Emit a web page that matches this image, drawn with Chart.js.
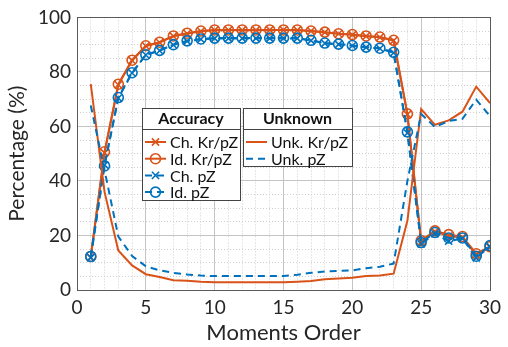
<!DOCTYPE html>
<html>
<head>
<meta charset="utf-8">
<script src="https://cdn.jsdelivr.net/npm/chart.js@4.4.1/dist/chart.umd.min.js"></script>
<style>
  html, body { margin: 0; padding: 0; background: #fff; }
  #wrap { width: 508px; height: 347px; position: relative; }
</style>
</head>
<body>
<div id="wrap"><canvas id="canvas"></canvas></div>
<script>
// moments order on the x axis
const moments = [1, 2, 3, 4, 5, 6, 7, 8, 9, 10, 11, 12, 13, 14, 15,
                 16, 17, 18, 19, 20, 21, 22, 23, 24, 25, 26, 27, 28, 29, 30];

// accuracy (%) - Kr/pZ descriptors
const chKrPz = [12.0, 50.3, 75.3, 84.2, 89.5, 90.8, 93.1, 94.1, 94.9, 95.3, 95.3, 95.3, 95.3, 95.4, 95.4,
                95.3, 95.0, 94.5, 94.0, 93.6, 93.1, 92.7, 91.5, 64.4, 17.6, 21.4, 19.8, 19.3, 12.9, 15.6];
const idKrPz = [12.3, 50.7, 75.5, 84.3, 89.6, 90.9, 93.2, 94.2, 95.0, 95.4, 95.4, 95.4, 95.4, 95.4, 95.4,
                95.4, 95.0, 94.6, 94.0, 93.7, 93.2, 92.8, 91.6, 64.6, 18.1, 21.7, 20.3, 19.6, 13.3, 15.9];

// accuracy (%) - pZ descriptors
const chPz = [11.8, 45.9, 70.4, 79.6, 86.2, 87.8, 89.9, 91.3, 92.0, 92.3, 92.3, 92.3, 92.3, 92.3, 92.3,
              92.3, 91.5, 90.5, 90.1, 89.6, 89.0, 88.6, 87.0, 57.6, 16.9, 20.6, 17.9, 18.9, 11.8, 16.0];
const idPz = [12.3, 45.5, 70.6, 79.7, 86.3, 87.9, 90.0, 91.4, 92.1, 92.4, 92.4, 92.4, 92.4, 92.4, 92.4,
              92.4, 91.6, 90.6, 90.2, 89.7, 89.1, 88.7, 87.2, 58.0, 17.4, 21.1, 19.1, 19.1, 12.4, 16.3];

// unknown rate (%)
const unkKrPz = [75.5, 36.0, 14.5, 9.0, 5.8, 4.8, 3.6, 3.4, 3.0, 2.8, 2.8, 2.8, 2.8, 2.8, 2.8,
                 3.0, 3.3, 3.9, 4.2, 4.5, 5.1, 5.3, 6.0, 25.4, 66.4, 60.6, 62.2, 65.4, 74.6, 68.6];
const unkPz = [67.7, 44.0, 19.6, 12.5, 8.7, 7.2, 6.3, 5.7, 5.3, 5.1, 5.1, 5.1, 5.1, 5.1, 5.1,
               5.6, 6.3, 6.8, 7.0, 7.2, 8.0, 8.5, 9.7, 40.0, 64.6, 59.8, 62.0, 62.8, 69.8, 63.8];

const xTicks = [0, 5, 10, 15, 20, 25, 30];
const yTicks = [0, 20, 40, 60, 80, 100];

const ORANGE = '#D95319';
const BLUE = '#0072BD';
const FONT = 'Lato, "Open Sans", sans-serif';
const DASH = [7, 5];

function pts(values) {
  return values.map((v, i) => ({ x: moments[i], y: v }));
}

function series(label, values, color, style, dashed) {
  return {
    label: label,
    data: pts(values),
    borderColor: color,
    backgroundColor: 'transparent',
    borderWidth: 2,
    borderDash: dashed ? DASH : [],
    pointStyle: style || 'circle',
    pointRadius: style ? 5 : 0,
    pointBorderWidth: 1.6,
    pointBorderColor: color,
    pointBackgroundColor: 'transparent',
    tension: 0
  };
}

const datasets = [
  series('Unk. pZ', unkPz, BLUE, null, true),
  series('Unk. Kr/pZ', unkKrPz, ORANGE, null, false),
  series('Ch. pZ', chPz, BLUE, 'crossRot', true),
  series('Id. pZ', idPz, BLUE, 'circle', true),
  series('Ch. Kr/pZ', chKrPz, ORANGE, 'crossRot', false),
  series('Id. Kr/pZ', idKrPz, ORANGE, 'circle', false)
];

// box around the plot area
const boxPlugin = {
  id: 'axesBox',
  afterDatasetsDraw(chart) {
    const a = chart.chartArea;
    const ctx = chart.ctx;
    ctx.save();
    ctx.strokeStyle = '#5a5a5a';
    ctx.lineWidth = 1;
    ctx.strokeRect(Math.round(a.left) + 0.5, Math.round(a.top) + 0.5,
                   Math.round(a.right - a.left), Math.round(a.bottom - a.top));
    ctx.restore();
  }
};

// two boxed legends: accuracy and unknown
function drawLegendBox(chart, title, items, box) {
  const ctx = chart.ctx;
  ctx.save();
  ctx.fillStyle = '#fff';
  ctx.fillRect(box.x, box.y, box.w, box.h);
  ctx.strokeStyle = '#444';
  ctx.lineWidth = 1;
  ctx.strokeRect(box.x + 0.5, box.y + 0.5, box.w, box.h);
  ctx.beginPath();
  ctx.moveTo(box.x, box.y + 21.5);
  ctx.lineTo(box.x + box.w, box.y + 21.5);
  ctx.stroke();

  ctx.fillStyle = '#111';
  ctx.font = 'bold 16px ' + FONT;
  ctx.textAlign = 'center';
  ctx.textBaseline = 'middle';
  ctx.fillText(title, box.x + box.w / 2, box.y + 11);

  ctx.font = '16px ' + FONT;
  ctx.textAlign = 'left';
  items.forEach((ds, i) => {
    const y = box.y + 34 + i * 16.7;
    const x0 = box.x + 3, x1 = box.x + 24, xm = (x0 + x1) / 2;
    ctx.strokeStyle = ds.borderColor;
    ctx.lineWidth = 2;
    ctx.setLineDash(ds.borderDash);
    ctx.beginPath();
    ctx.moveTo(x0, y);
    ctx.lineTo(x1, y);
    ctx.stroke();
    ctx.setLineDash([]);
    if (ds.pointRadius > 0) {
      ctx.lineWidth = ds.pointBorderWidth;
      ctx.beginPath();
      if (ds.pointStyle === 'circle') {
        ctx.arc(xm, y, ds.pointRadius, 0, Math.PI * 2);
      } else {
        const r = ds.pointRadius * 0.72;
        ctx.moveTo(xm - r, y - r); ctx.lineTo(xm + r, y + r);
        ctx.moveTo(xm - r, y + r); ctx.lineTo(xm + r, y - r);
      }
      ctx.stroke();
    }
    ctx.fillStyle = '#111';
    ctx.fillText(ds.label, x1 + 4, y + 1);
  });
  ctx.restore();
}

const legendPlugin = {
  id: 'groupLegends',
  afterDraw(chart) {
    const byLabel = {};
    chart.data.datasets.forEach(d => { byLabel[d.label] = d; });
    drawLegendBox(chart, 'Accuracy',
      ['Ch. Kr/pZ', 'Id. Kr/pZ', 'Ch. pZ', 'Id. pZ'].map(l => byLabel[l]),
      { x: 142, y: 108, w: 98, h: 92 });
    drawLegendBox(chart, 'Unknown',
      ['Unk. Kr/pZ', 'Unk. pZ'].map(l => byLabel[l]),
      { x: 243, y: 108, w: 109, h: 58 });
  }
};

const ctx = document.getElementById('canvas').getContext('2d');
const myChart = new Chart(ctx, {
  type: 'line',
  data: { datasets: datasets },
  plugins: [boxPlugin, legendPlugin],
  options: {
    responsive: true,
    maintainAspectRatio: false,
    animation: false,
    layout: { padding: { top: 14, right: 18, left: 0, bottom: 0 } },
    plugins: { legend: { display: false }, tooltip: { enabled: false } },
    scales: {
      xMinor: {
        type: 'linear', position: 'bottom', min: 0, max: 30,
        ticks: { display: false, stepSize: 1 },
        grid: { color: '#cfcfcf', lineWidth: 1, drawTicks: false },
        border: { display: false, dash: [1, 2] },
        afterFit(scale) { scale.height = 0; }
      },
      yMinor: {
        type: 'linear', position: 'left', min: 0, max: 100,
        ticks: { display: false, stepSize: 5 },
        grid: { color: '#cfcfcf', lineWidth: 1, drawTicks: false },
        border: { display: false, dash: [1, 2] },
        afterFit(scale) { scale.width = 0; }
      },
      x: {
        type: 'linear', position: 'bottom', min: 0, max: 30,
        afterBuildTicks(scale) { scale.ticks = xTicks.map(v => ({ value: v })); },
        ticks: { color: '#262626', font: { family: FONT, size: 19 }, padding: 6 },
        grid: { color: '#c4c4c4', lineWidth: 1, drawTicks: false },
        border: { display: false },
        title: { display: true, text: 'Moments Order', color: '#262626',
                 font: { family: FONT, size: 22 }, padding: { top: 0, bottom: 1 } },
        afterFit(scale) { scale.height = 57; }
      },
      y: {
        type: 'linear', position: 'left', min: 0, max: 100,
        afterBuildTicks(scale) { scale.ticks = yTicks.map(v => ({ value: v })); },
        ticks: { color: '#262626', font: { family: FONT, size: 19 }, padding: 6 },
        grid: { color: '#c4c4c4', lineWidth: 1, drawTicks: false },
        border: { display: false },
        title: { display: true, text: 'Percentage (%)', color: '#262626',
                 font: { family: FONT, size: 21 }, padding: { top: 5, bottom: 0 } },
        afterFit(scale) { scale.width = 77; }
      }
    }
  }
});
</script>
</body>
</html>
